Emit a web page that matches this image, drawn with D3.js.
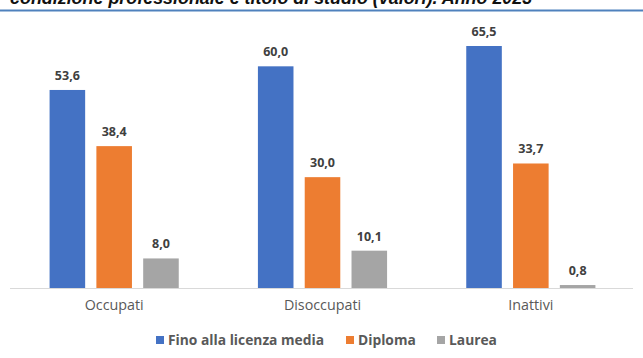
<!DOCTYPE html>
<html>
<head>
<meta charset="utf-8">
<script src="https://cdn.jsdelivr.net/npm/d3@7"></script>
<style>
  html, body { margin: 0; padding: 0; background: #fff; }
  svg { display: block; }
</style>
</head>
<body>
<svg id="chart" width="643" height="358"></svg>
<script>
// Condizione professionale per titolo di studio (valori %)
const categories = ["Occupati", "Disoccupati", "Inattivi"];
const seriesNames = ["Fino alla licenza media", "Diploma", "Laurea"];
const licenzaMedia = [53.6, 60.0, 65.5];
const diploma = [38.4, 30.0, 33.7];
const laurea = [8.0, 10.1, 0.8];
const colors = ["#4472C4", "#ED7D31", "#A5A5A5"];
const titleText = "condizione professionale e titolo di studio (valori). Anno 2023";

const seriesValues = [licenzaMedia, diploma, laurea];
const rows = categories.map((c, i) => ({
  category: c,
  values: seriesNames.map((s, j) => ({ series: s, idx: j, value: seriesValues[j][i] }))
}));

const svg = d3.select("#chart");
const W = 643, H = 358;
const fmt = v => d3.format(".1f")(v).replace(".", ",");

// Title (running off the top edge) and the rule beneath it
svg.append("text")
  .attr("x", 10).attr("y", 4)
  .attr("font-family", "'Liberation Sans', Arial, sans-serif")
  .attr("font-size", 17.9)
  .attr("font-style", "italic")
  .attr("font-weight", "bold")
  .attr("fill", "#111")
  .text(titleText);
svg.append("line")
  .attr("x1", 0).attr("x2", W)
  .attr("y1", 10.5).attr("y2", 10.5)
  .attr("stroke", "#4F81BD").attr("stroke-width", 2);

const plot = { left: 10, right: 635, baseline: 288 };

const x0 = d3.scaleBand().domain(categories).range([plot.left, plot.right]).paddingInner(0.38).paddingOuter(0.19);
const x1 = d3.scaleBand().domain(seriesNames).range([0, x0.bandwidth()]).paddingInner(0.24);
const y = d3.scaleLinear().domain([0, 65.5]).range([plot.baseline, 46]);

// Category axis
const axis = svg.append("g").attr("transform", `translate(0,${plot.baseline})`)
  .call(d3.axisBottom(x0).tickSize(0).tickPadding(12));
axis.select(".domain").attr("stroke", "#D9D9D9").attr("stroke-width", 1)
  .attr("d", `M${plot.left},0.5H${plot.right - 2}`);
axis.selectAll("text")
  .attr("font-family", "'Open Sans', sans-serif")
  .attr("font-size", 14.3)
  .attr("fill", "#595959");

const groups = svg.append("g").selectAll("g").data(rows).join("g")
  .attr("transform", d => `translate(${x0(d.category)},0)`);

groups.selectAll("rect").data(d => d.values).join("rect")
  .attr("x", d => x1(d.series))
  .attr("width", x1.bandwidth())
  .attr("y", d => y(d.value))
  .attr("height", d => plot.baseline - y(d.value))
  .attr("fill", d => colors[d.idx]);

groups.selectAll("text.val").data(d => d.values).join("text")
  .attr("class", "val")
  .attr("x", d => x1(d.series) + x1.bandwidth() / 2)
  .attr("y", d => y(d.value) - 10)
  .attr("text-anchor", "middle")
  .attr("font-family", "'Open Sans', sans-serif")
  .attr("font-weight", "bold")
  .attr("font-size", 12.5)
  .attr("fill", "#404040")
  .text(d => fmt(d.value));

// Legend
const legend = svg.append("g").attr("transform", "translate(0,340)");
const legendX = [156, 346, 437];
const items = legend.selectAll("g").data(seriesNames).join("g")
  .attr("transform", (d, i) => `translate(${legendX[i]},0)`);
items.append("rect").attr("x", 0).attr("y", -4).attr("width", 8).attr("height", 8)
  .attr("fill", (d, i) => colors[i]);
items.append("text").attr("x", 12).attr("y", 0).attr("dy", "0.35em")
  .attr("font-family", "'Open Sans', sans-serif")
  .attr("font-weight", "bold")
  .attr("font-size", 13.8)
  .attr("fill", "#595959")
  .text(d => d);
</script>
</body>
</html>
